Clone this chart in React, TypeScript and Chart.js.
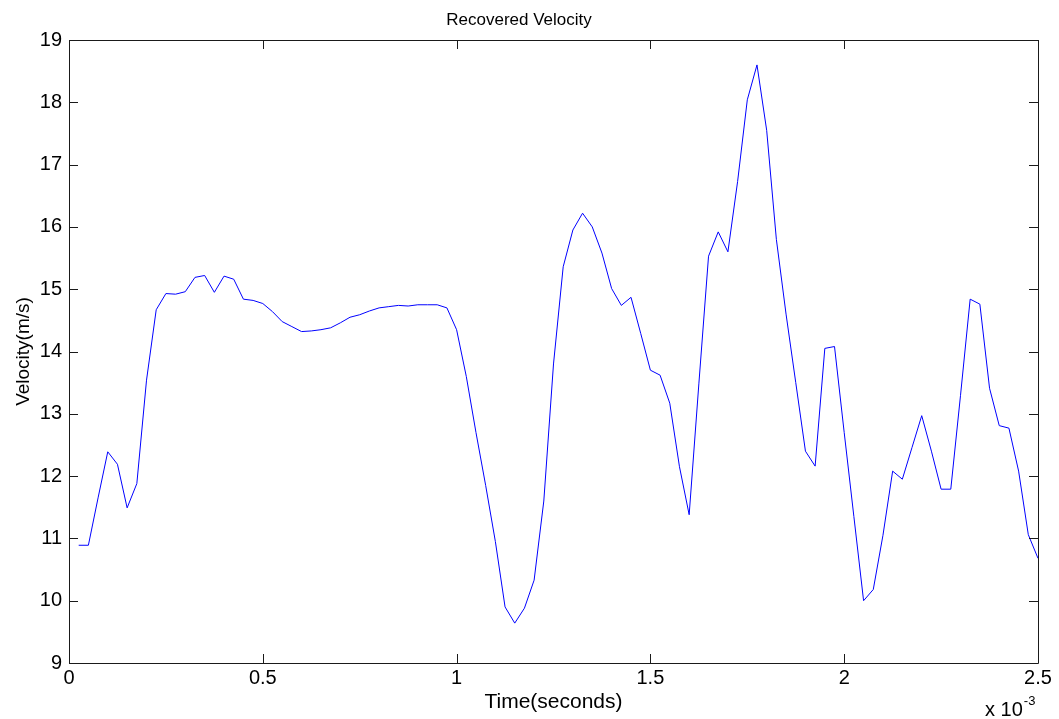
import { useEffect, useRef } from "react";
import { Chart, registerables } from "chart.js";

Chart.register(...registerables);

// Time samples (units of 1e-3 s)
const times = [
  0.025, 0.05, 0.075, 0.1, 0.125, 0.15, 0.175, 0.2, 0.225, 0.25,
  0.275, 0.3, 0.325, 0.35, 0.375, 0.4, 0.425, 0.45, 0.475, 0.5,
  0.525, 0.55, 0.575, 0.6, 0.625, 0.65, 0.675, 0.7, 0.725, 0.75,
  0.775, 0.8, 0.825, 0.85, 0.875, 0.9, 0.925, 0.95, 0.975, 1.0,
  1.025, 1.05, 1.075, 1.1, 1.125, 1.15, 1.175, 1.2, 1.225, 1.25,
  1.275, 1.3, 1.325, 1.35, 1.375, 1.4, 1.425, 1.45, 1.475, 1.5,
  1.525, 1.55, 1.575, 1.6, 1.625, 1.65, 1.675, 1.7, 1.725, 1.75,
  1.775, 1.8, 1.825, 1.85, 1.875, 1.9, 1.925, 1.95, 1.975, 2.0,
  2.025, 2.05, 2.075, 2.1, 2.125, 2.15, 2.175, 2.2, 2.225, 2.25,
  2.275, 2.3, 2.325, 2.35, 2.375, 2.4, 2.425, 2.45, 2.475, 2.5,
];

// Recovered velocity (m/s)
const velocity = [
  10.89, 10.89, 11.65, 12.39, 12.19, 11.49, 11.88, 13.54, 14.67, 14.93,
  14.92, 14.96, 15.19, 15.22, 14.95, 15.21, 15.16, 14.84, 14.82, 14.77,
  14.64, 14.48, 14.4, 14.32, 14.33, 14.35, 14.38, 14.46, 14.55, 14.59,
  14.65, 14.7, 14.72, 14.74, 14.73, 14.75, 14.75, 14.75, 14.7, 14.35,
  13.6, 12.7, 11.85, 10.95, 9.9, 9.64, 9.88, 10.33, 11.6, 13.8,
  15.36, 15.95, 16.22, 16.0, 15.58, 15.01, 14.74, 14.87, 14.29, 13.7,
  13.62, 13.17, 12.15, 11.38, 13.48, 15.53, 15.92, 15.6, 16.73, 18.04,
  18.6, 17.55, 15.8, 14.6, 13.5, 12.4, 12.16, 14.05, 14.08, 12.7,
  11.35, 10.0, 10.18, 11.05, 12.08, 11.95, 12.46, 12.97, 12.4, 11.79,
  11.79, 13.29, 14.84, 14.76, 13.41, 12.81, 12.77, 12.08, 11.06, 10.68,
];

const xTicks = [0, 0.5, 1, 1.5, 2, 2.5];
const yTicks = [9, 10, 11, 12, 13, 14, 15, 16, 17, 18, 19];

const FONT = "'Liberation Sans', Arial, sans-serif";
const TICK_LEN = 9;

const framePlugin = {
  id: "matlabFrame",
  afterDatasetsDraw(chart: any) {
    const { ctx, chartArea } = chart;
    const { left, right, top, bottom } = chartArea;
    const xs = chart.scales.x;
    const ys = chart.scales.y;
    ctx.save();
    ctx.strokeStyle = "#1a1a1a";
    ctx.lineWidth = 1;
    ctx.beginPath();
    ctx.rect(Math.round(left) + 0.5, Math.round(top) + 0.5, Math.round(right - left), Math.round(bottom - top));
    ctx.stroke();
    ctx.beginPath();
    xTicks.forEach((v) => {
      const px = Math.round(xs.getPixelForValue(v)) + 0.5;
      ctx.moveTo(px, bottom);
      ctx.lineTo(px, bottom - TICK_LEN);
      ctx.moveTo(px, top);
      ctx.lineTo(px, top + TICK_LEN);
    });
    yTicks.forEach((v) => {
      const py = Math.round(ys.getPixelForValue(v)) + 0.5;
      ctx.moveTo(left, py);
      ctx.lineTo(left + TICK_LEN, py);
      ctx.moveTo(right, py);
      ctx.lineTo(right - TICK_LEN, py);
    });
    ctx.stroke();
    ctx.restore();
  },
  afterDraw(chart: any) {
    const { ctx } = chart;
    ctx.save();
    ctx.fillStyle = "#000";
    ctx.textAlign = "left";
    ctx.textBaseline = "alphabetic";
    ctx.font = `20px ${FONT}`;
    const main = "x 10";
    const x0 = 985;
    ctx.fillText(main, x0, 716);
    const w = ctx.measureText(main).width;
    ctx.font = `13px ${FONT}`;
    ctx.fillText("-3", x0 + w + 1, 705);
    ctx.restore();
  },
};

export default function App() {
  const canvasRef = useRef<HTMLCanvasElement | null>(null);

  useEffect(() => {
    if (!canvasRef.current) return;
    const points = times.map((t, i) => ({ x: t, y: velocity[i] }));
    const chart = new Chart(canvasRef.current, {
      type: "line",
      data: {
        datasets: [
          {
            label: "Velocity",
            data: points,
            borderColor: "#0000ff",
            backgroundColor: "#0000ff",
            borderWidth: 1,
            pointRadius: 0,
            tension: 0,
            fill: false,
          },
        ],
      },
      options: {
        animation: false,
        responsive: false,
        maintainAspectRatio: false,
        layout: { padding: { left: 0, right: 21, top: 0, bottom: 0 } },
        plugins: {
          legend: { display: false },
          tooltip: { enabled: false },
          title: {
            display: true,
            text: "Recovered Velocity",
            color: "#000",
            font: { family: FONT, size: 17, weight: "normal" },
            padding: { top: 10, bottom: 9.6 },
          },
        },
        scales: {
          x: {
            type: "linear",
            min: 0,
            max: 2.5,
            afterBuildTicks: (scale: any) => {
              scale.ticks = xTicks.map((v) => ({ value: v }));
            },
            afterFit: (scale: any) => {
              scale.height = 56;
            },
            grid: { display: false, drawTicks: false },
            border: { display: false },
            ticks: {
              color: "#000",
              padding: 3,
              maxRotation: 0,
              font: { family: FONT, size: 20 },
              callback: (v: any) => String(v),
            },
            title: {
              display: true,
              text: "Time(seconds)",
              color: "#000",
              font: { family: FONT, size: 21 },
              padding: { top: 0, bottom: 4 },
            },
          },
          y: {
            type: "linear",
            min: 9,
            max: 19,
            afterBuildTicks: (scale: any) => {
              scale.ticks = yTicks.map((v) => ({ value: v }));
            },
            afterFit: (scale: any) => {
              scale.width = 69;
            },
            grid: { display: false, drawTicks: false },
            border: { display: false },
            ticks: {
              color: "#000",
              padding: 7,
              font: { family: FONT, size: 20 },
              callback: (v: any) => String(v),
            },
            title: {
              display: true,
              text: "Velocity(m/s)",
              color: "#000",
              font: { family: FONT, size: 19 },
              padding: { top: 12, bottom: 0 },
            },
          },
        },
      },
      plugins: [framePlugin],
    });
    return () => chart.destroy();
  }, []);

  return (
    <div
      style={{
        position: "fixed",
        left: 0,
        top: 0,
        width: 1059,
        height: 719,
        background: "#fff",
      }}
    >
      <canvas ref={canvasRef} width={1059} height={719} style={{ display: "block" }} />
    </div>
  );
}
